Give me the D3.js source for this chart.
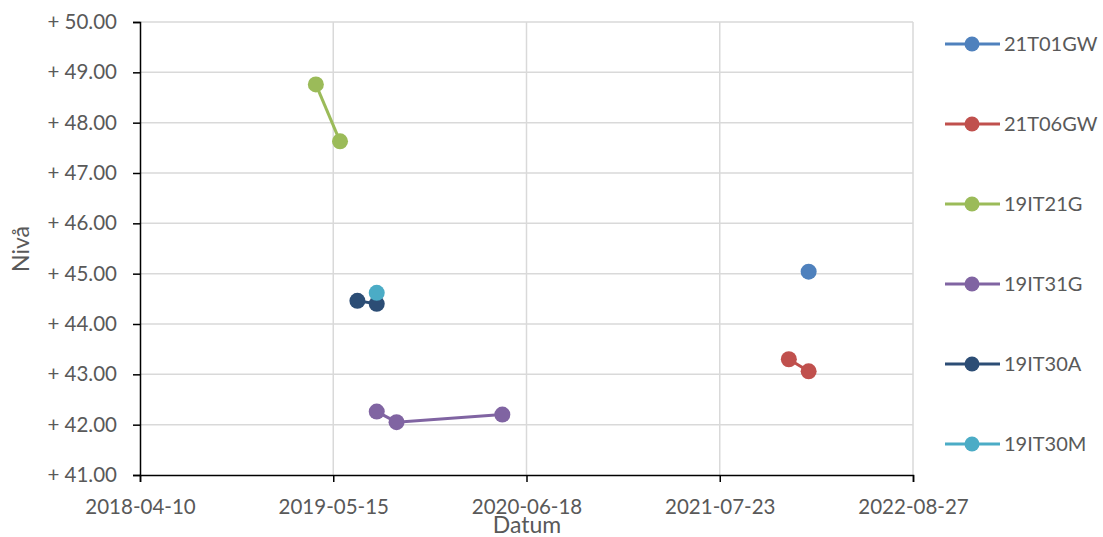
<!DOCTYPE html>
<html><head><meta charset="utf-8">
<script src="https://cdn.jsdelivr.net/npm/d3@7"></script>
<style>
body{margin:0;background:#fff;}
text{font-family:Lato,"Open Sans",sans-serif;fill:#595959;}
</style></head>
<body><svg id="c" width="1103" height="537"></svg>
<script>
const seriesNames = ["21T01GW","21T06GW","19IT21G","19IT31G","19IT30A","19IT30M"];
const seriesColors = ["#4f81bd","#c0504d","#9bbb59","#8064a2","#2c4d75","#4bacc6"];
const dates_21T01GW = ["2022-01-23"];
const values_21T01GW = [45.04];
const dates_21T06GW = ["2021-12-13","2022-01-23"];
const values_21T06GW = [43.30,43.06];
const dates_19IT21G = ["2019-04-09","2019-05-29"];
const values_19IT21G = [48.76,47.63];
const dates_19IT31G = ["2019-08-13","2019-09-23","2020-04-29"];
const values_19IT31G = [42.26,42.05,42.20];
const dates_19IT30A = ["2019-07-04","2019-08-13"];
const values_19IT30A = [44.46,44.40];
const dates_19IT30M = ["2019-08-13"];
const values_19IT30M = [44.62];
const xTickLabels = ["2018-04-10","2019-05-15","2020-06-18","2021-07-23","2022-08-27"];
const yTickValues = [41,42,43,44,45,46,47,48,49,50];

const parse = d3.utcParse("%Y-%m-%d");
const allDates = [dates_21T01GW,dates_21T06GW,dates_19IT21G,dates_19IT31G,dates_19IT30A,dates_19IT30M];
const allValues = [values_21T01GW,values_21T06GW,values_19IT21G,values_19IT31G,values_19IT30A,values_19IT30M];
const series = seriesNames.map((n,i)=>({name:n,color:seriesColors[i],
  pts: allDates[i].map((d,j)=>({date:parse(d),v:allValues[i][j]}))}));

const svg = d3.select("#c");
const L=140, R=913, T=22, B=475;
const x = d3.scaleUtc().domain([parse(xTickLabels[0]), parse(xTickLabels[xTickLabels.length-1])]).range([L,R]);
const y = d3.scaleLinear().domain([41,50]).range([B,T]);

// gridlines
svg.append("g").selectAll("line.h").data(yTickValues.slice(1)).join("line")
  .attr("x1",L).attr("x2",R).attr("y1",d=>y(d)).attr("y2",d=>y(d))
  .attr("stroke","#d9d9d9").attr("stroke-width",1.5);
svg.append("g").selectAll("line.v").data(xTickLabels.slice(1)).join("line")
  .attr("x1",d=>x(parse(d))).attr("x2",d=>x(parse(d))).attr("y1",T).attr("y2",B)
  .attr("stroke","#d9d9d9").attr("stroke-width",1.5);

// axes
const yAxis = d3.axisLeft(y).tickValues(yTickValues).tickSize(7).tickPadding(16)
  .tickFormat(d=>"+ "+d3.format(".2f")(d));
const gy = svg.append("g").attr("transform",`translate(${L},0)`).call(yAxis);
const xAxis = d3.axisBottom(x).tickValues(xTickLabels.map(parse)).tickSize(7).tickPadding(17)
  .tickFormat(d3.utcFormat("%Y-%m-%d"));
const gx = svg.append("g").attr("transform",`translate(0,${B})`).call(xAxis);
[gx,gy].forEach(g=>{
  g.select(".domain").attr("stroke","#000").attr("stroke-width",1.5);
  g.selectAll(".tick line").attr("stroke","#000").attr("stroke-width",1.5);
  g.selectAll(".tick text").style("font-size","20.5px").attr("fill","#595959");
});
svg.append("text").attr("x",527).attr("y",533).attr("text-anchor","middle")
  .style("font-size","23px").text("Datum");
svg.append("text").attr("transform","translate(29,249) rotate(-90)").attr("text-anchor","middle")
  .style("font-size","23px").text("Nivå");

// series
const line = d3.line().x(d=>x(d.date)).y(d=>y(d.v));
const gs = svg.append("g").selectAll("g").data(series).join("g");
gs.append("path").attr("d",d=>line(d.pts)).attr("fill","none")
  .attr("stroke",d=>d.color).attr("stroke-width",3);
gs.each(function(s){
  d3.select(this).selectAll("circle").data(s.pts).join("circle")
    .attr("cx",d=>x(d.date)).attr("cy",d=>y(d.v)).attr("r",8).attr("fill",s.color);
});

// legend
const lg = svg.append("g").selectAll("g").data(series).join("g")
  .attr("transform",(d,i)=>`translate(945,${44+i*80})`);
lg.append("line").attr("x1",0).attr("x2",55).attr("stroke",d=>d.color).attr("stroke-width",3);
lg.append("circle").attr("cx",27).attr("r",7.5).attr("fill",d=>d.color);
lg.append("text").attr("x",59).attr("dy","0.35em").style("font-size","20px").text(d=>d.name);
</script></body></html>
